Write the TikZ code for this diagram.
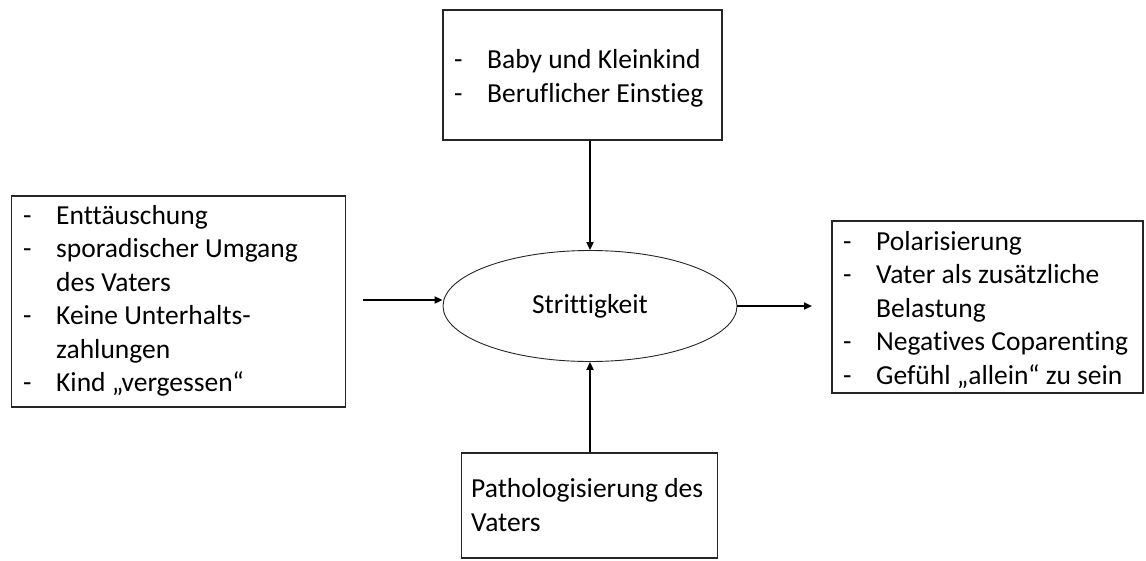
\documentclass[tikz,border=0pt]{standalone}
\usepackage{fontspec}
\setmainfont{Carlito}[Ligatures=NoCommon]
\usetikzlibrary{arrows.meta,shapes.geometric}
\newcommand{\lst}[1]{\begin{tabular}[t]{@{}p{33pt}@{}l@{}}#1\end{tabular}}
\newcommand{\plainlst}[1]{\begin{tabular}[t]{@{}l@{}}#1\end{tabular}}
\begin{document}
\begin{tikzpicture}[x=1pt,y=-1pt,
  box/.style={draw=black!85, line width=1.1pt, rectangle, inner sep=0pt},
  txt/.style={inner sep=0pt, anchor=base west, font=\fontsize{27.5}{33.5}\selectfont},
  conn/.style={line width=2pt, -{Triangle[length=8pt,width=7pt]}}]
\fill[white] (0,0) rectangle (1146,560);
\useasboundingbox (0,0) rectangle (1146,560);
% boxes
\node[box, minimum width=279pt, minimum height=130pt] (top) at (582.5,75) {};
\node[box, minimum width=334pt, minimum height=211pt] (left) at (178.5,301.5) {};
\node[box, minimum width=311pt, minimum height=172pt] (right) at (987.5,307) {};
\node[box, minimum width=256pt, minimum height=105pt] (bot) at (589.5,505.5) {};
\node[ellipse, draw=black!85, line width=0.9pt, minimum width=294pt, minimum height=111pt, inner sep=0pt, font=\fontsize{27.5}{33.5}\selectfont] (ell) at (590,306) {Strittigkeit};
% texts
\node[txt] (toptxt) at (454,68.5) {\lst{- & Baby und Kleinkind\\ - & Beruflicher Einstieg}};
\node[txt] (lefttxt) at (23,224) {\lst{- & Enttäuschung\\ - & sporadischer Umgang\\ & des Vaters\\ - & Keine Unterhalts-\\ & zahlungen\\ - & Kind „vergessen“}};
\node[txt] (righttxt) at (843,250) {\lst{- & Polarisierung\\ - & Vater als zusätzliche\\ & Belastung\\ - & Negatives Coparenting\\ - & Gefühl „allein“ zu sein}};
\node[txt] (bottxt) at (471,497.5) {\plainlst{Pathologisierung des\\Vaters}};
% connectors
\coordinate (la) at (363,300);
\coordinate (ra) at (812,306);
\draw[conn] (top.south -| ell.north) -- (ell.north);
\draw[conn] (bot.north -| ell.south) -- (ell.south);
\draw[conn] (la) -- (ell.west |- la);
\draw[conn] (ell.east) -- (ra);
\end{tikzpicture}
\end{document}
